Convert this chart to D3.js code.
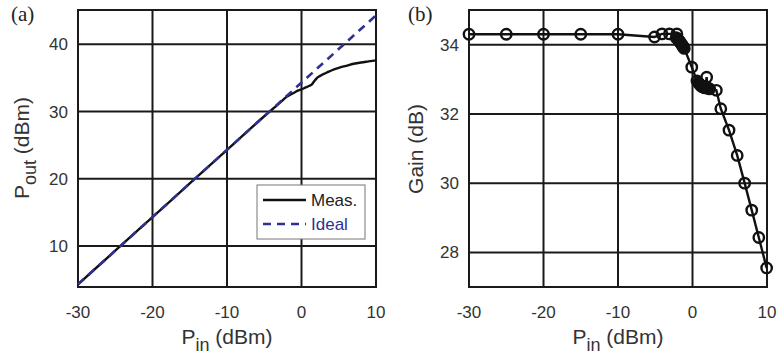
<!DOCTYPE html>
<html><head><meta charset="utf-8">
<script src="https://cdn.jsdelivr.net/npm/d3@7"></script>
<style>body{margin:0;background:#fff}svg{display:block}</style>
</head><body>
<svg id="c" width="778" height="358"></svg>
<script>
// Panel (a): output power
const measPin  = [-30,-25,-20,-15,-10,-5,-3,-2.5,-2,-1.5,-1,-0.5,0,0.5,1,1.4,1.7,2,2.5,3,3.5,4,5,6,7,8,9,10];
const measPout = [4.3,9.3,14.3,19.3,24.3,29.3,31.2,31.7,32.2,32.5,32.8,33.1,33.3,33.55,33.8,34.05,34.5,34.9,35.3,35.6,35.85,36.1,36.5,36.8,37.1,37.3,37.45,37.6];
const idealPin  = [-30,10];
const idealPout = [4.3,44.3];
const xTicksA = [-30,-20,-10,0,10];
const yTicksA = [10,20,30,40];
const legendLabels = ["Meas.","Ideal"];
// Panel (b): gain
const gainPin = [-30,-25,-20,-15,-10,-5.1,-4.1,-3.1,-2.1,-2.2,-2.0,-1.9,-1.8,-1.7,-1.6,-1.5,-1.4,-1.3,-1.2,-1.1,-0.1,0.6,0.8,0.9,1.0,1.1,1.2,1.3,1.4,1.5,1.6,1.7,1.9,2.0,2.1,2.3,3.2,3.8,4.9,6.0,7.0,7.95,8.9,9.95];
const gainVal = [34.3,34.3,34.3,34.3,34.3,34.22,34.31,34.31,34.31,34.2,34.17,34.14,34.11,34.08,34.05,34.02,33.99,33.95,33.92,33.89,33.35,32.95,32.9,32.87,32.85,32.82,32.8,32.79,32.78,32.77,32.76,32.75,33.06,32.75,32.74,32.72,32.68,32.15,31.53,30.8,30.0,29.22,28.43,27.55];
const xTicksB = [-30,-20,-10,0,10];
const yTicksB = [28,30,32,34];

const svg = d3.select("#c");
const blue = "#2e3192";
const sans = "'Liberation Sans', Arial, sans-serif";
const serif = "'Liberation Serif', 'Times New Roman', serif";

function panel(left, right, yDom, xTicks, yTicks) {
  const x = d3.scaleLinear().domain([-30,10]).range([left,right]);
  const y = d3.scaleLinear().domain(yDom).range([287,10]);
  const g = svg.append("g");
  g.selectAll(".gx").data(xTicks).join("line")
    .attr("x1",d=>x(d)).attr("x2",d=>x(d)).attr("y1",10).attr("y2",287)
    .attr("stroke","#1a1a1a").attr("stroke-width",2);
  g.selectAll(".gy").data(yTicks).join("line")
    .attr("y1",d=>y(d)).attr("y2",d=>y(d)).attr("x1",left).attr("x2",right)
    .attr("stroke","#1a1a1a").attr("stroke-width",2);
  g.append("rect").attr("x",left).attr("y",10).attr("width",right-left).attr("height",277)
    .attr("fill","none").attr("stroke","#1a1a1a").attr("stroke-width",2);
  g.selectAll(".tx").data(xTicks).join("text")
    .attr("x",d=>x(d)).attr("y",318).attr("text-anchor","middle")
    .attr("font-family",sans).attr("font-size",17).attr("fill","#333")
    .text(d=>d);
  g.selectAll(".ty").data(yTicks).join("text")
    .attr("x",left-10).attr("y",d=>y(d)+6).attr("text-anchor","end")
    .attr("font-family",sans).attr("font-size",17).attr("fill","#333")
    .text(d=>d);
  const t = g.append("text").attr("x",(left+right)/2).attr("y",344).attr("text-anchor","middle")
    .attr("font-family",sans).attr("font-size",21).attr("fill","#333");
  t.append("tspan").text("P");
  t.append("tspan").attr("dy",7).attr("font-size",18).text("in");
  t.append("tspan").attr("dy",-7).text(" (dBm)");
  return {x,y,g};
}

// Panel a
const A = panel(78,376,[3.9,45.1],xTicksA,yTicksA);
A.g.append("path").datum(measPin.map((p,i)=>[p,measPout[i]]))
  .attr("d",d3.line().x(d=>A.x(d[0])).y(d=>A.y(d[1])).curve(d3.curveMonotoneX))
  .attr("fill","none").attr("stroke","#111").attr("stroke-width",2.4);
A.g.append("path").datum(idealPin.map((p,i)=>[p,idealPout[i]]))
  .attr("d",d3.line().x(d=>A.x(d[0])).y(d=>A.y(d[1]))).attr("fill","none").attr("stroke",blue)
  .attr("stroke-width",2.6).attr("stroke-dasharray","8,6");
const ya = svg.append("text").attr("transform","translate(29,148) rotate(-90)").attr("text-anchor","middle")
  .attr("font-family",sans).attr("font-size",21).attr("fill","#333");
ya.append("tspan").text("P");
ya.append("tspan").attr("dy",7).attr("font-size",18).text("out");
ya.append("tspan").attr("dy",-7).text(" (dBm)");
svg.append("text").attr("x",11).attr("y",21).attr("font-family",serif)
  .attr("font-size",21).attr("fill","#222").text("(a)");
// legend
const lg = svg.append("g");
lg.append("rect").attr("x",257).attr("y",185).attr("width",108).attr("height",54)
  .attr("fill","#fff").attr("stroke","#777").attr("stroke-width",1);
lg.append("line").attr("x1",263).attr("x2",306).attr("y1",200).attr("y2",200).attr("stroke","#111").attr("stroke-width",2.4);
lg.append("line").attr("x1",263).attr("x2",306).attr("y1",224).attr("y2",224).attr("stroke",blue).attr("stroke-width",2.6).attr("stroke-dasharray","8,6");
lg.append("text").attr("x",311).attr("y",206).attr("font-family",sans).attr("font-size",17).attr("fill","#222").text(legendLabels[0]);
lg.append("text").attr("x",311).attr("y",230).attr("font-family",sans).attr("font-size",17).attr("fill",blue).text(legendLabels[1]);

// Panel b
const B = panel(469,767,[27,35],xTicksB,yTicksB);
const gd = gainPin.map((p,i)=>[p,gainVal[i]]);
B.g.append("path").datum(gd).attr("d",d3.line().x(d=>B.x(d[0])).y(d=>B.y(d[1])))
  .attr("fill","none").attr("stroke","#111").attr("stroke-width",2.4);
B.g.selectAll(".m").data(gd).join("circle").attr("cx",d=>B.x(d[0])).attr("cy",d=>B.y(d[1])).attr("r",5.2)
  .attr("fill","none").attr("stroke","#111").attr("stroke-width",2.4);
svg.append("text").attr("transform","translate(423,149) rotate(-90)").attr("text-anchor","middle")
  .attr("font-family",sans).attr("font-size",21).attr("fill","#333").text("Gain (dB)");
svg.append("text").attr("x",408).attr("y",21).attr("font-family",serif)
  .attr("font-size",21).attr("fill","#222").text("(b)");
</script>
</body></html>
